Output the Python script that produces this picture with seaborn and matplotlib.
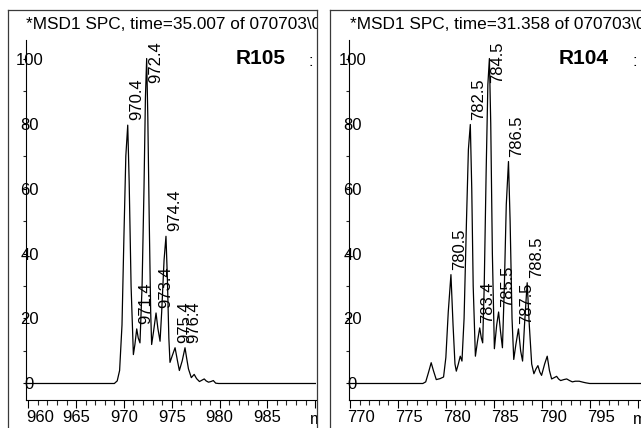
import matplotlib
matplotlib.use("Agg")
import matplotlib.pyplot as plt
import matplotlib.transforms as mtrans
import numpy as np
import pandas as pd
import seaborn as sns

# ---------------- data ----------------
left_mz = [959.8, 969.0, 969.3, 969.55, 969.8, 970.0, 970.2, 970.4, 970.55, 970.75,
           970.99, 971.15, 971.34, 971.5, 971.68, 971.9, 972.1, 972.25, 972.38, 972.5,
           972.65, 972.8, 972.9, 973.1, 973.36, 973.55, 973.78, 973.95, 974.2, 974.4,
           974.55, 974.7, 974.82, 975.05, 975.35, 975.6, 975.8, 976.1, 976.39, 976.55,
           976.75, 977.05, 977.35, 977.6, 977.9, 978.15, 978.4, 978.6, 978.85, 979.1,
           979.35, 979.6, 979.9, 990.1]
left_int = [0, 0, 0.8, 4, 18, 45, 70, 79.5, 62, 30,
            8.9, 12, 16.8, 14, 12.5, 30, 60, 88, 100, 82,
            50, 22, 12, 16, 21.7, 17, 13, 22, 38, 45.3,
            32, 14, 6.5, 8.5, 11, 7, 4, 7, 11, 8,
            4.5, 1.8, 2.8, 1.5, 0.6, 1.0, 1.4, 0.8, 0.4, 0.6,
            0.9, 0.1, 0, 0]
left_peak_labels = ["970.4", "971.4", "972.4", "973.4", "974.4", "975.4", "976.4"]
left_peak_int = [79.5, 16.8, 100, 21.7, 45.3, 11, 11]

right_mz = [769.9, 777.6, 777.9, 778.2, 778.47, 778.7, 779.0, 779.4, 779.76, 780.0,
            780.25, 780.53, 780.75, 780.95, 781.09, 781.3, 781.5, 781.68, 781.9, 782.15,
            782.35, 782.55, 782.7, 782.85, 783.08, 783.3, 783.53, 783.7, 783.84, 784.0,
            784.2, 784.38, 784.54, 784.68, 784.85, 785.06, 785.3, 785.5, 785.7, 785.9,
            786.1, 786.3, 786.53, 786.7, 786.9, 787.08, 787.3, 787.57, 787.8, 788.0,
            788.2, 788.48, 788.7, 788.95, 789.18, 789.4, 789.6, 789.8, 789.98, 790.3,
            790.57, 790.8, 791.03, 791.3, 791.55, 791.75, 791.97, 792.3, 792.6, 792.9,
            793.19, 793.5, 793.9, 794.3, 794.6, 795.0, 802.5]
right_int = [0, 0, 0.5, 3.5, 6.4, 4, 1.2, 1.5, 2, 8,
             22, 33.5, 18, 6, 3.8, 6, 8.4, 6.9, 20, 50,
             72, 79.7, 60, 30, 8.4, 13, 17.1, 14, 12.5, 30,
             65, 92, 100, 80, 40, 10.7, 18, 22, 16, 11,
             30, 55, 68.3, 50, 20, 7.4, 12, 16.8, 10, 6.9,
             18, 31, 18, 6, 3, 4.5, 5.5, 3.5, 2.5, 6,
             8.4, 4, 1.4, 1.8, 2.2, 1.4, 0.9, 1.2, 1.4, 0.9,
             0.5, 0.7, 0.7, 0.4, 0.2, 0, 0]
right_peak_labels = ["780.5", "782.5", "783.4", "784.5", "785.5", "786.5", "787.5", "788.5"]
right_peak_int = [33.5, 79.7, 17.1, 100, 22, 68.3, 16.8, 31]

titles = ["*MSD1 SPC, time=35.007 of 070703\\0", "*MSD1 SPC, time=31.358 of 070703\\0"]
sample_names = ["R105", "R104"]
left_xticks = [960, 965, 970, 975, 980, 985, 990]
right_xticks = [770, 775, 780, 785, 790, 795, 800]
y_ticks = [0, 20, 40, 60, 80, 100]
x_axis_name = "m/z"

# ---------------- style ----------------
sns.set_theme(style="white")
plt.rcParams['font.family'] = ['Liberation Sans', 'DejaVu Sans']
plt.rcParams['font.size'] = 12

W, H = 641, 428
fig = plt.figure(figsize=(W / 100, H / 100), dpi=100)
fig.patch.set_facecolor("white")


def fx(px):
    return px / W


def fy(py):
    return 1 - py / H


panels = [
    dict(box_left=8, box_right=317, spine=26, ax_right=316, xlim=(959.76, 990.09),
         mz=left_mz, inten=left_int, labels=left_peak_labels, pint=left_peak_int,
         xticks=left_xticks, title=titles[0], name=sample_names[0], left_labels=False),
    dict(box_left=330, box_right=700, spine=349, ax_right=660, xlim=(769.9, 802.33),
         mz=right_mz, inten=right_int, labels=right_peak_labels, pint=right_peak_int,
         xticks=right_xticks, title=titles[1], name=sample_names[1], left_labels=True),
]

ylim = (-5.08, 105.7)
box_color = "#3a3a3a"

for p in panels:
    # outer framed box
    ob = fig.add_axes([fx(p['box_left']), -0.1, fx(p['box_right'] - p['box_left']),
                       fy(10) + 0.1])
    ob.set_xticks([])
    ob.set_yticks([])
    ob.set_facecolor("white")
    for s in ob.spines.values():
        s.set_color(box_color)
        s.set_linewidth(0.9)
    ob.set_zorder(0)

    ax = fig.add_axes([fx(p['spine']), fy(400), fx(p['ax_right'] - p['spine']),
                       fy(40) - fy(400)])
    ax.set_zorder(1)
    ax.patch.set_alpha(0)

    df = pd.DataFrame({"mz": p['mz'], "intensity": p['inten']})
    sns.lineplot(data=df, x="mz", y="intensity", ax=ax, color="black",
                 linewidth=0.9, estimator=None)

    ax.set_xlim(*p['xlim'])
    ax.set_ylim(*ylim)
    ax.set_xlabel("")
    ax.set_ylabel("")
    for side in ["top", "right"]:
        ax.spines[side].set_visible(False)
    for side in ["left", "bottom"]:
        ax.spines[side].set_color("black")
        ax.spines[side].set_linewidth(0.8)

    ax.set_xticks(p['xticks'])
    ax.set_xticklabels([str(t) for t in p['xticks'][:-1]] + [""])
    ax.set_xticks(np.arange(p['xticks'][0], p['xticks'][-1] + 1, 1), minor=True)
    ax.tick_params(axis='x', which='major', length=5.5, width=0.8, direction='out',
                   pad=1.5, labelsize=12, colors='black', bottom=True)
    ax.tick_params(axis='x', which='minor', length=3.5, width=0.8, direction='out',
                   bottom=True)

    ax.set_yticks(y_ticks)
    ax.set_yticklabels([str(t) for t in y_ticks], ha='center')
    ax.set_yticks(np.arange(0, 101, 10), minor=True)
    ax.tick_params(axis='y', which='major', length=2, width=0.8, direction='out',
                   pad=-4.5, labelsize=12, colors='black', left=True)
    ax.tick_params(axis='y', which='minor', length=2, width=0.8, direction='out',
                   left=True)

    # x tick label alignment as in the reference
    shift = mtrans.ScaledTranslation(-2.5 / 100, 0, fig.dpi_scale_trans)
    xlabels = ax.get_xticklabels()
    for i, tl in enumerate(xlabels):
        if p['left_labels'] or i == 0:
            tl.set_ha('left')
            tl.set_transform(tl.get_transform() + shift)

    # peak labels
    for lbl, h in zip(p['labels'], p['pint']):
        xv = float(lbl)
        if h > 85:
            ax.annotate(lbl, xy=(xv, ylim[1]), xytext=(1, -1), textcoords='offset points',
                        rotation=90, ha='left', va='top', fontsize=12, color='black',
                        annotation_clip=False)
        else:
            ax.annotate(lbl, xy=(xv, h), xytext=(1, 3.5), textcoords='offset points',
                        rotation=90, ha='left', va='bottom', fontsize=12, color='black',
                        annotation_clip=False)

    # texts in the outer box, clipped to it
    ob.text(fx(p['spine'] + 0.5), fy(29), p['title'], transform=fig.transFigure,
            ha='left', va='baseline', fontsize=12.4, color='black', clip_on=True)
    ob.text(fx(p['spine'] + 210), fy(64.5), p['name'], transform=fig.transFigure,
            ha='left', va='baseline', fontsize=15, fontweight='bold', color='black',
            family=['Liberation Sans Narrow', 'Liberation Sans'], clip_on=True)
    ob.text(fx(p['spine'] + 283), fy(66), ":", transform=fig.transFigure,
            ha='left', va='baseline', fontsize=12, color='black', clip_on=True)
    blend = mtrans.blended_transform_factory(ax.transData, fig.transFigure)
    mz_text = ob.text(p['xticks'][-1], fy(424), x_axis_name, transform=blend,
                      ha='left', va='baseline', fontsize=12, color='black', clip_on=True)
    mz_text.set_transform(blend + mtrans.ScaledTranslation(-5 / 100, 0, fig.dpi_scale_trans))

fig.savefig("out.png", dpi=100, facecolor="white")
